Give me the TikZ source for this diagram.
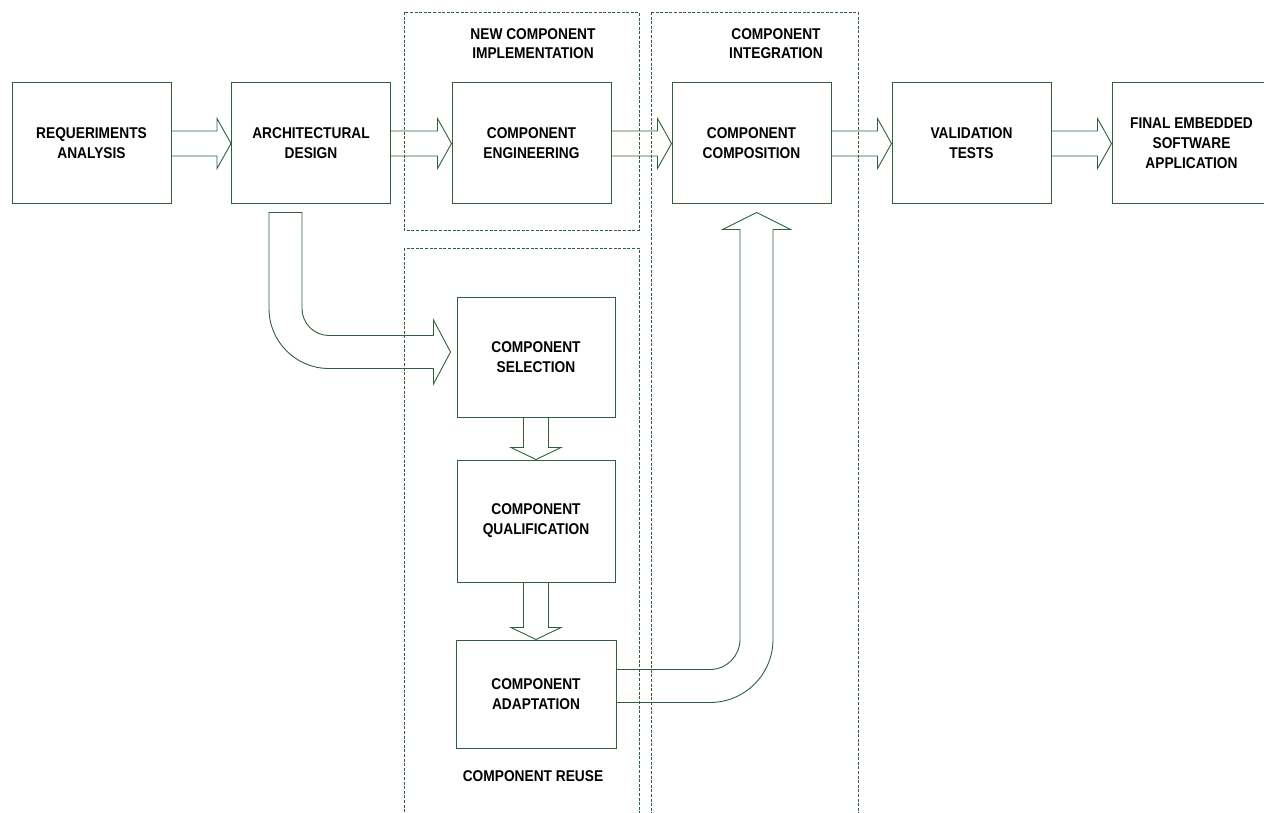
\documentclass[tikz,border=0pt]{standalone}
\usepackage{fontspec}
\setmainfont{Liberation Sans}[FakeStretch=0.88]
\definecolor{boxgreen}{HTML}{2F5F3B}
\tikzset{
  stage/.style={draw=boxgreen, line width=1pt, minimum width=159pt, minimum height=121pt,
    inner sep=0pt, align=center, font=\fontsize{15.6}{20}\selectfont\bfseries},
  fat/.style={draw=boxgreen, line width=0.9pt, line join=miter},
  group/.style={draw=boxgreen, line width=0.7pt, dash pattern=on 3pt off 1.6pt},
  grouplabel/.style={align=center, font=\fontsize{15.6}{19}\selectfont\bfseries}
}
% hollow block arrows between two stages
\newcommand{\fatright}[2]{%
  \draw[fat] ([yshift=12.5pt]#1.east) -- ([xshift=-14pt,yshift=12.5pt]#2.west)
    -- ([xshift=-14pt,yshift=25pt]#2.west) -- (#2.west)
    -- ([xshift=-14pt,yshift=-25pt]#2.west) -- ([xshift=-14pt,yshift=-12.5pt]#2.west)
    -- ([yshift=-12.5pt]#1.east);}
\newcommand{\fatdown}[2]{%
  \draw[fat] ([xshift=-12.5pt]#1.south) -- ([xshift=-12.5pt,yshift=12pt]#2.north)
    -- ([xshift=-25pt,yshift=12pt]#2.north) -- (#2.north)
    -- ([xshift=25pt,yshift=12pt]#2.north) -- ([xshift=12.5pt,yshift=12pt]#2.north)
    -- ([xshift=12.5pt]#1.south);}
\begin{document}
\begin{tikzpicture}[x=1pt,y=-1pt]
\useasboundingbox (0,0) rectangle (1264,813);

% dashed groups
\draw[group] (404,12) rectangle (639,230);
\draw[group] (404,248) rectangle (639,830);
\draw[group] (651,12) rectangle (858,830);
\node[grouplabel] (newlab) at (533,44) {NEW COMPONENT\\IMPLEMENTATION};
\node[grouplabel] (intlab) at (776,44) {COMPONENT\\INTEGRATION};
\node[grouplabel] (reuselab) at (533,776) {COMPONENT REUSE};

% main line
\node[stage] (req) at (91.5,143.5) {REQUERIMENTS\\ANALYSIS};
\node[stage] (arch) at (311,143.5) {ARCHITECTURAL\\DESIGN};
\node[stage] (eng) at (531.5,143.5) {COMPONENT\\ENGINEERING};
\node[stage] (comp) at (751.5,143.5) {COMPONENT\\COMPOSITION};
\node[stage] (val) at (971.5,143.5) {VALIDATION\\TESTS};
\node[stage] (final) at (1191.5,143.5) {FINAL EMBEDDED\\SOFTWARE\\APPLICATION};

% reuse branch
\node[stage, minimum width=158pt, minimum height=120pt] (sel) at (536,357) {COMPONENT\\SELECTION};
\node[stage, minimum width=158pt, minimum height=122pt] (qual) at (536,521) {COMPONENT\\QUALIFICATION};
\node[stage, minimum width=160pt, minimum height=108pt] (adapt) at (536,694) {COMPONENT\\ADAPTATION};

\fatright{req}{arch}
\fatright{arch}{eng}
\fatright{eng}{comp}
\fatright{comp}{val}
\fatright{val}{final}
\fatdown{sel}{qual}
\fatdown{qual}{adapt}

% bent arrow: design -> selection
\coordinate (archout) at ([xshift=-25.5pt,yshift=-8pt]arch.south);
\coordinate (selin) at ([xshift=-6pt,yshift=5pt]sel.west);
\coordinate (bendA) at (archout |- selin);
\draw[fat] ([xshift=16.5pt]archout) -- ([xshift=-16.5pt]archout)
  -- ([xshift=-16.5pt,yshift=43.5pt]bendA) arc[start angle=180, end angle=270, radius=60pt]
  -- ([xshift=-17pt,yshift=-16.5pt]selin) -- ([xshift=-17pt,yshift=-32pt]selin)
  -- (selin) -- ([xshift=-17pt,yshift=32pt]selin) -- ([xshift=-17pt,yshift=16.5pt]selin)
  -- ([xshift=43.5pt,yshift=16.5pt]bendA) arc[start angle=270, end angle=180, radius=27pt]
  -- cycle;

% bent arrow: adaptation -> composition
\coordinate (adaptout) at ([yshift=8pt]adapt.east);
\coordinate (compin) at ([xshift=5pt,yshift=-8pt]comp.south);
\coordinate (bendB) at (compin |- adaptout);
\draw[fat] ([yshift=16.5pt]adaptout) -- ([xshift=-46.5pt,yshift=16.5pt]bendB)
  arc[start angle=270, end angle=360, radius=30pt]
  -- ([xshift=-16.5pt,yshift=-17pt]compin) -- ([xshift=-34pt,yshift=-17pt]compin)
  -- (compin) -- ([xshift=34pt,yshift=-17pt]compin) -- ([xshift=16.5pt,yshift=-17pt]compin)
  -- ([xshift=16.5pt,yshift=46.5pt]bendB) arc[start angle=0, end angle=-90, radius=63pt]
  -- ([yshift=-16.5pt]adaptout);
\end{tikzpicture}
\end{document}
